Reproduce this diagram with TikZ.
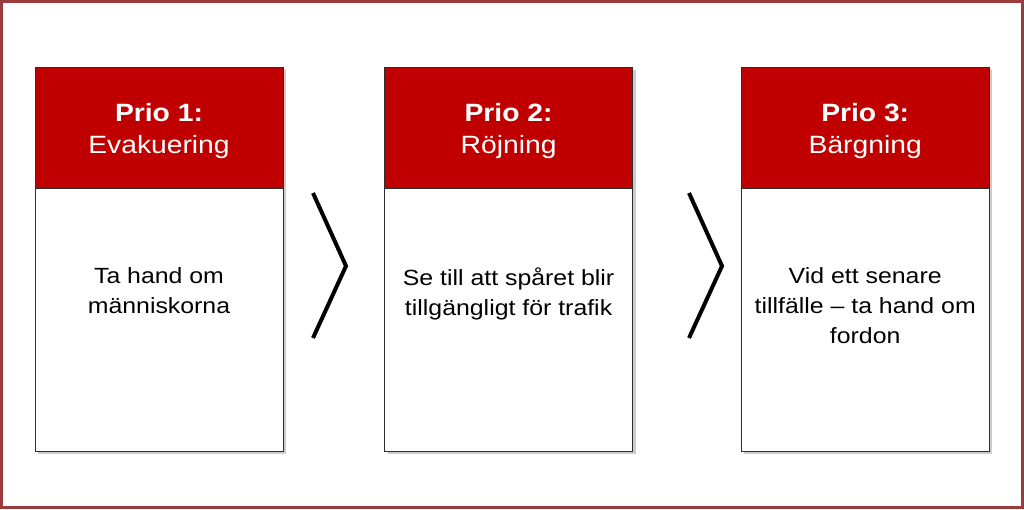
\documentclass[tikz,border=0pt]{standalone}
\usepackage{fontspec}
\setmainfont{Liberation Sans}[FakeStretch=1.13]
\usetikzlibrary{positioning,shadows}
\definecolor{prioRed}{HTML}{C00000}
\definecolor{frameRed}{HTML}{9C3A3C}
\definecolor{edgeGray}{HTML}{2E2E2E}

\begin{document}
\begin{tikzpicture}
	[x=1pt,y=-1pt,node distance=101pt,semithick]
	\tikzstyle{card}=[draw=edgeGray,fill=white,minimum width=248pt,minimum height=384pt,inner sep=0pt,drop shadow={shadow xshift=3pt,shadow yshift=-3pt,opacity=0.4}]
	\tikzstyle{head}=[draw=edgeGray,fill=prioRed,minimum width=248pt,minimum height=121pt,anchor=north,inner sep=0pt]
	\tikzstyle{title}=[text=white,align=center,inner sep=0pt,yshift=-4pt,font=\fontsize{25}{32}\selectfont]
	\tikzstyle{body}=[align=center,inner sep=0pt,font=\fontsize{22}{30}\selectfont]
	\tikzstyle{chevron}=[line width=4pt,draw=black]

	\useasboundingbox (0,0) rectangle (1024,509);
	\draw[frameRed,line width=3pt] (1.5,1.5) rectangle (1022.5,507.5);

	\node[card] (C1) at (159,259) {};
	\node[card] (C2) [right=101pt of C1] {};
	\node[card] (C3) [right=108pt of C2] {};

	\node[head] (H1) at (C1.north) {};
	\node[head] (H2) at (C2.north) {};
	\node[head] (H3) at (C3.north) {};

	\node[title] (P1) at (H1) {\textbf{Prio 1:}\\Evakuering};
	\node[title] (P2) at (H2) {\textbf{Prio 2:}\\Röjning};
	\node[title] (P3) at (H3) {\textbf{Prio 3:}\\Bärgning};

	\node[body] (T1) [below=79pt of H1] {Ta hand om\\människorna};
	\node[body] (T2) [below=79pt of H2] {Se till att spåret blir\\tillgängligt för trafik};
	\node[body] (T3) [below=79pt of H3] {Vid ett senare\\tillfälle – ta hand om\\fordon};

	\foreach \x in {313,689}
		\draw[chevron] (\x,193) -- (\x+33,266) -- (\x,338);
\end{tikzpicture}
\end{document}
